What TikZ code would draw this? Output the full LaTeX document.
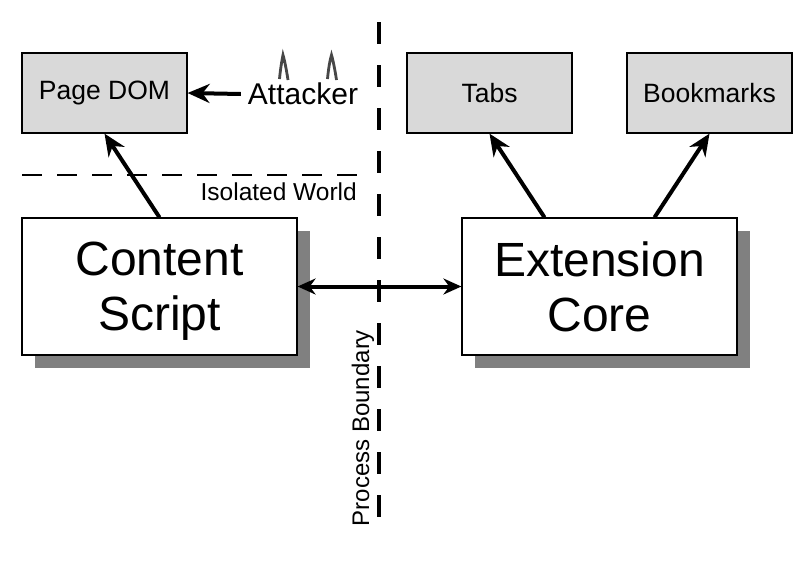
\documentclass[tikz,border=0pt]{standalone}
\usepackage{fontspec}
\setmainfont{Liberation Sans}
\usetikzlibrary{arrows.meta, shadows, calc}

\begin{document}
\begin{tikzpicture}[x=1pt, y=-1pt,
  smallbox/.style={draw, line width=1.2pt, fill=black!15, minimum width=165pt, minimum height=80pt, font=\fontsize{26.5}{30}\selectfont},
  bigbox/.style={draw, line width=1.2pt, fill=white, minimum width=275pt, minimum height=137pt, align=center,
    font=\fontsize{48}{55}\selectfont,
    drop shadow={shadow xshift=13pt, shadow yshift=-13pt, fill=black!50, opacity=1}},
  thick arrow/.style={line width=4pt, -{Stealth[length=22pt, width=19pt]}},
  border/.style={line width=3.5pt, dash pattern=on 22pt off 21pt}]
\useasboundingbox (0,0) rectangle (810,560);

\node[smallbox] (pagedom) at (104.5,93) {Page DOM};
\node[smallbox] (tabs) at (489.5,93) {Tabs};
\node[smallbox] (bookmarks) at (709.5,93) {Bookmarks};
\node[inner sep=7pt, font=\fontsize{30}{34}\selectfont] (attacker) at (303,94) {Attacker};

% horns
\draw[line width=2.8pt, black!72] (279.5,79) .. controls (280.5,68) and (282,60) .. (283,55) .. controls (284.5,60) and (286.5,70) .. (288,80);
\draw[line width=2.8pt, black!72] (327.5,79) .. controls (328.5,68) and (330,60) .. (331.5,55) .. controls (333,60) and (335,70) .. (336.5,80);

\draw[line width=2.8pt, dash pattern=on 20pt off 15pt] (22,175) -- (357,175);
\node[anchor=east, inner sep=0pt, font=\fontsize{24.5}{28}\selectfont] (isolated) at (357,192) {Isolated World};

\draw[border] (379,22) -- (379,532);
\node[rotate=90, inner sep=0pt, font=\fontsize{24}{28}\selectfont] (boundary) at (363,428) {Process Boundary};

\node[bigbox] (content) at (159.5,286.5) {Content\\Scri\smash{p}t};
\node[bigbox] (core) at (599.5,286.5) {Extension\\Core};

\draw[thick arrow] (attacker.west) -- (pagedom.east);
\draw[thick arrow] (content.north) -- (pagedom.south);
\draw[thick arrow] ($(core.north)+(-55,0)$) -- (tabs.south);
\draw[thick arrow] ($(core.north)+(55,0)$) -- (bookmarks.south);
\draw[line width=4pt, {Stealth[length=18pt, width=16pt]}-{Stealth[length=18pt, width=16pt]}] (content.east) -- (core.west);
\end{tikzpicture}
\end{document}
